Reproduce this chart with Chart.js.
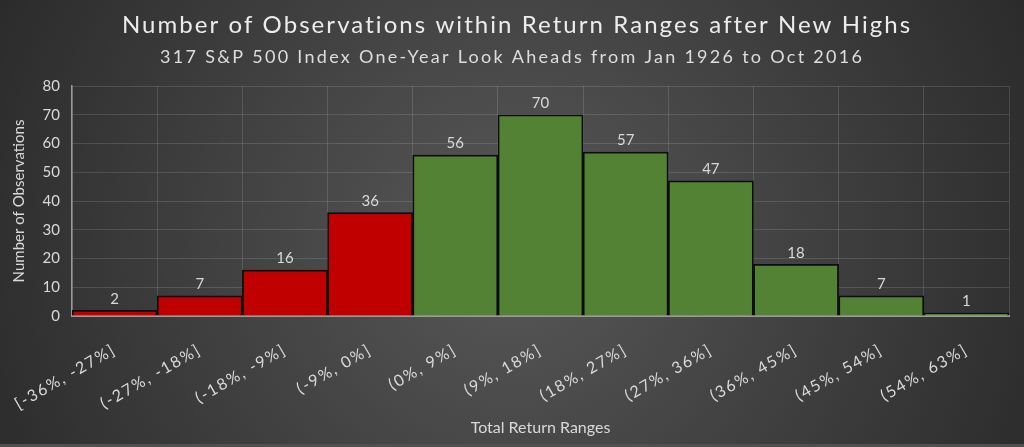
<!DOCTYPE html>
<html>
<head>
<meta charset="utf-8">
<title>Number of Observations within Return Ranges after New Highs</title>
<script src="https://cdn.jsdelivr.net/npm/chart.js@4.4.0/dist/chart.umd.min.js"></script>
<style>
  html, body { margin: 0; padding: 0; background: #2b2b2b; }
  #wrap { width: 1024px; height: 447px; position: relative; }
</style>
</head>
<body>
<div id="wrap"><canvas id="chartCanvas"></canvas></div>
<script>
// adatok
const rangeLabels = ["[-36%, -27%]", "(-27%, -18%]", "(-18%, -9%]", "(-9%, 0%]", "(0%, 9%]", "(9%, 18%]",
  "(18%, 27%]", "(27%, 36%]", "(36%, 45%]", "(45%, 54%]", "(54%, 63%]"];
const observations = [2, 7, 16, 36, 56, 70, 57, 47, 18, 7, 1];
const yTicks = { min: 0, max: 80, step: 10 };

const titleText = "Number of Observations within Return Ranges after New Highs";
const subtitleText = "317 S&P 500 Index One-Year Look Aheads from Jan 1926 to Oct 2016";

const FONT = "Lato, 'Open Sans', sans-serif";
const TEXT = "#d9d9d9";

// negatív tartomány piros, pozitív zöld
const barColors = rangeLabels.map(l => l.includes("-") ? "#c00000" : "#548235");

// háttér: sötét radiális átmenet
const bgPlugin = {
  id: "bg",
  beforeDraw(chart) {
    const { ctx, width, height } = chart;
    ctx.save();
    const g = ctx.createRadialGradient(width * 0.5, height * 0.55, 20, width * 0.5, height * 0.55, width * 0.62);
    g.addColorStop(0, "#565656");
    g.addColorStop(1, "#262626");
    ctx.fillStyle = g;
    ctx.fillRect(0, 0, width, height);
    ctx.fillStyle = "#505050";
    ctx.fillRect(0, height - 3, width, 3);
    ctx.restore();

    // x feliratok ritkítva
    const sx = chart.scales.x;
    if (sx && !sx._spaced) {
      const orig = sx.drawLabels.bind(sx);
      sx.drawLabels = function(area) {
        this.ctx.save();
        this.ctx.letterSpacing = "1.8px";
        orig(area);
        this.ctx.restore();
      };
      sx._spaced = true;
    }
  }
};

// cím és alcím ritkított betűkkel
function spacedText(ctx, text, cx, cy, font, targetWidth) {
  ctx.font = font;
  ctx.letterSpacing = "0px";
  const w = ctx.measureText(text).width;
  const sp = Math.max(0, (targetWidth - w) / (text.length - 1));
  ctx.letterSpacing = sp.toFixed(2) + "px";
  ctx.textAlign = "center";
  ctx.textBaseline = "middle";
  ctx.fillText(text, cx + sp / 2, cy);
  ctx.letterSpacing = "0px";
}

const titlePlugin = {
  id: "titles",
  afterDraw(chart) {
    const ctx = chart.ctx;
    ctx.save();
    ctx.fillStyle = "#ececec";
    spacedText(ctx, titleText, 516, 25, "24px " + FONT, 788);
    ctx.fillStyle = "#dddddd";
    spacedText(ctx, subtitleText, 511, 57, "18px " + FONT, 702);
    ctx.restore();
  }
};

// értékek a oszlopok fölött
const valuePlugin = {
  id: "values",
  afterDatasetsDraw(chart) {
    const ctx = chart.ctx;
    const meta = chart.getDatasetMeta(0);
    ctx.save();
    ctx.font = "15px " + FONT;
    ctx.fillStyle = TEXT;
    ctx.textAlign = "center";
    ctx.textBaseline = "bottom";
    meta.data.forEach((bar, i) => {
      ctx.fillText(String(observations[i]), bar.x, bar.y - 4);
    });
    ctx.restore();
  }
};

new Chart(document.getElementById("chartCanvas"), {
  type: "bar",
  data: {
    labels: rangeLabels,
    datasets: [{
      data: observations,
      backgroundColor: barColors,
      borderColor: "#0d0d0d",
      borderWidth: 1.8,
      barPercentage: 1,
      categoryPercentage: 1
    }]
  },
  options: {
    responsive: true,
    maintainAspectRatio: false,
    animation: false,
    layout: { padding: { left: 0, right: 15, top: 86, bottom: 0 } },
    plugins: {
      legend: { display: false },
      tooltip: { enabled: false }
    },
    scales: {
      x: {
        grid: { color: "rgba(255,255,255,0.13)", drawTicks: false, offset: true },
        border: { color: "#9a9a9a", width: 2 },
        ticks: {
          color: TEXT,
          font: { family: FONT, size: 16 },
          minRotation: 30,
          maxRotation: 30,
          padding: 24
        },
        title: {
          display: true,
          text: "Total Return Ranges",
          color: TEXT,
          font: { family: FONT, size: 16 },
          padding: { top: 0, bottom: 10 }
        },
        afterFit(scale) { scale.height = 131; }
      },
      y: {
        min: yTicks.min,
        max: yTicks.max,
        grid: { color: "rgba(255,255,255,0.13)", drawTicks: false },
        border: { color: "#9a9a9a", width: 1.5 },
        ticks: {
          stepSize: yTicks.step,
          color: TEXT,
          font: { family: FONT, size: 15 },
          padding: 12
        },
        title: {
          display: true,
          text: "Number of Observations",
          color: TEXT,
          font: { family: FONT, size: 15 },
          padding: { top: 10, bottom: 0 }
        },
        afterFit(scale) { scale.width = 72; }
      }
    }
  },
  plugins: [bgPlugin, valuePlugin, titlePlugin]
});
</script>
</body>
</html>
